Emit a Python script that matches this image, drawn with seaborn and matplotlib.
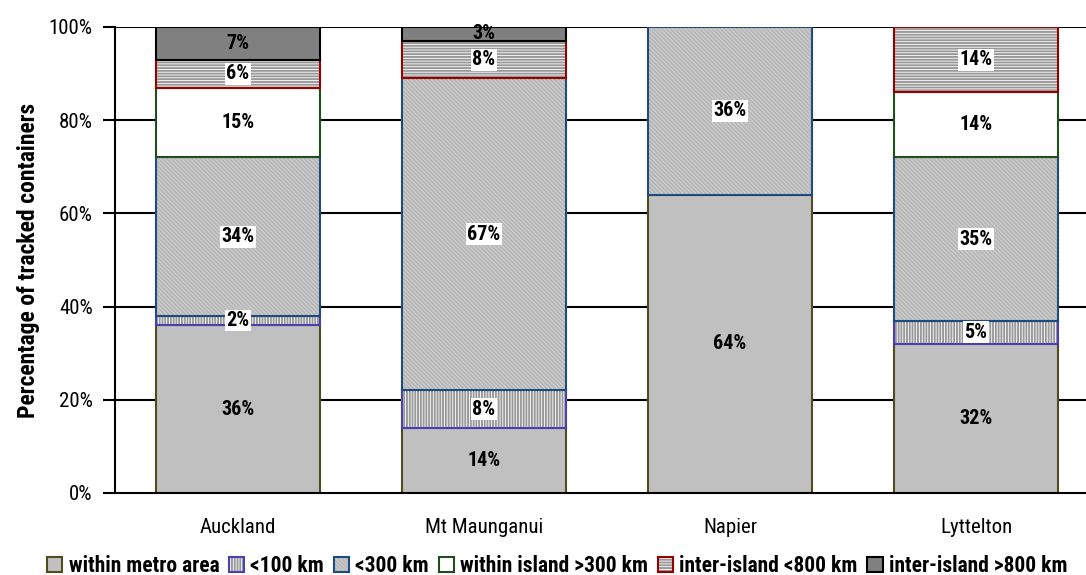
import matplotlib
matplotlib.use("Agg")
import matplotlib.pyplot as plt
import matplotlib.colors as mcolors
from matplotlib import font_manager as fm
import numpy as np
import pandas as pd
import seaborn as sns

ports = ["Auckland", "Mt Maunganui", "Napier", "Lyttelton"]
series_names = ["within metro area", "<100 km", "<300 km",
                "within island >300 km", "inter-island <800 km", "inter-island >800 km"]
metro = [36, 14, 64, 32]
lt100 = [2, 8, 0, 5]
lt300 = [34, 67, 36, 35]
island300 = [15, 0, 0, 14]
inter800 = [6, 8, 0, 14]
inter_gt800 = [7, 3, 0, 0]
series_values = [metro, lt100, lt300, island300, inter800, inter_gt800]

yticks = [0, 20, 40, 60, 80, 100]
ytick_labels = ["0%", "20%", "40%", "60%", "80%", "100%"]

face_colors = ["#c0c0c0", "#ffffff", "#d0d0d0", "#ffffff", "#ffffff", "#808080"]
edge_colors = ["#4d4d1f", "#4a3fb3", "#1f4a7d", "#1f4d1f", "#990000", "#000000"]
hatches = [None, "|" * 6, "\\" * 8, None, "-" * 6, None]
hatch_colors = [None, "#999999", "#b8b8b8", None, "#999999", None]
label_bg = [False, True, True, False, True, False]

sns.set_style("white")

# pick a narrow font if one is installed
entries = fm.fontManager.ttflist
chosen, stretch = None, "normal"
for want in ["Liberation Sans Narrow", "Arial Narrow", "Roboto Condensed",
             "Open Sans Condensed", "DejaVu Sans Condensed", "Noto Sans Condensed"]:
    if any(e.name == want for e in entries):
        chosen = want
        break
if chosen is None:
    cands = [e for e in entries if str(e.stretch) in ("condensed", "semi-condensed", "500", "600")
             or "Narrow" in e.name or "Condensed" in e.name]
    cands.sort(key=lambda e: (0 if "Sans" in e.name else 1))
    if cands:
        chosen = cands[0].name
        stretch = cands[0].stretch
if chosen is None:
    chosen = "Liberation Sans"
FONT = [chosen, "DejaVu Sans"]
plt.rcParams["font.family"] = FONT
plt.rcParams["font.stretch"] = stretch
plt.rcParams["hatch.linewidth"] = 1.4
for k in ["text.color", "axes.labelcolor", "xtick.color", "ytick.color"]:
    plt.rcParams[k] = "black"

fig = plt.figure(figsize=(10.86, 5.75), dpi=100)
ax = fig.add_axes([115 / 1086, 1 - 493 / 575, (1099 - 115) / 1086, (493 - 27) / 575])

for yv in yticks[1:]:
    ax.axhline(yv, color="black", lw=1.5, zorder=0)

bottom = np.zeros(len(ports))
for i, vals in enumerate(series_values):
    df = pd.DataFrame({"port": ports, "value": vals})
    n_before = len(ax.patches)
    kws = dict(edgecolor=edge_colors[i], linewidth=1.5)
    if hatches[i]:
        kws["hatch"] = hatches[i]
    sns.barplot(data=df, x="port", y="value", order=ports, color=face_colors[i],
                saturation=1, width=0.67, errorbar=None, bottom=bottom.copy(),
                ax=ax, zorder=2, **kws)
    new_patches = ax.patches[n_before:]
    for p, v in zip(new_patches, vals):
        if hatch_colors[i]:
            p._hatch_color = mcolors.to_rgba(hatch_colors[i])
        if v == 0:
            p.set_linewidth(0)
    for j, v in enumerate(vals):
        if v == 0:
            continue
        yc = bottom[j] + v / 2
        bbox = dict(facecolor="white", edgecolor="none", pad=1.0) if label_bg[i] else None
        ax.text(j, yc, f"{v}%", ha="center", va="center", fontsize=14.5,
                fontweight="bold", zorder=5, bbox=bbox, family=FONT, color="black")
    bottom = bottom + np.array(vals)

ax.set_xlim(-0.5, 3.5)
ax.set_ylim(0, 100)
ax.set_yticks(yticks)
ax.set_yticklabels(ytick_labels, fontsize=15)
ax.set_xticks(range(len(ports)))
ax.set_xticklabels(ports, fontsize=15)
ax.set_xticks([-0.5, 0.5, 1.5, 2.5, 3.5], minor=True)
ax.tick_params(axis="x", which="major", length=0, pad=18)
ax.tick_params(axis="x", which="minor", length=8, width=1.5, color="black", direction="out")
ax.tick_params(axis="y", which="major", length=9, width=1.5, color="black", direction="out", pad=7, left=True)
ax.set_xlabel("")
ax.set_ylabel("Percentage of tracked containers", fontsize=17, fontweight="bold", labelpad=6)
for s in ["top", "right"]:
    ax.spines[s].set_visible(False)
for s in ["left", "bottom"]:
    ax.spines[s].set_color("black")
    ax.spines[s].set_linewidth(1.5)

handles = [c for c in ax.containers]
fig.legend(handles, series_names, loc="center left", bbox_to_anchor=(47 / 1086, 1 - 566 / 575),
           ncol=6, frameon=False, handlelength=0.7, handleheight=0.7, handletextpad=0.3,
           columnspacing=0.45, borderpad=0, borderaxespad=0,
           prop={"size": 15.5, "weight": "bold", "family": FONT})

fig.savefig("out.png", dpi=100)
